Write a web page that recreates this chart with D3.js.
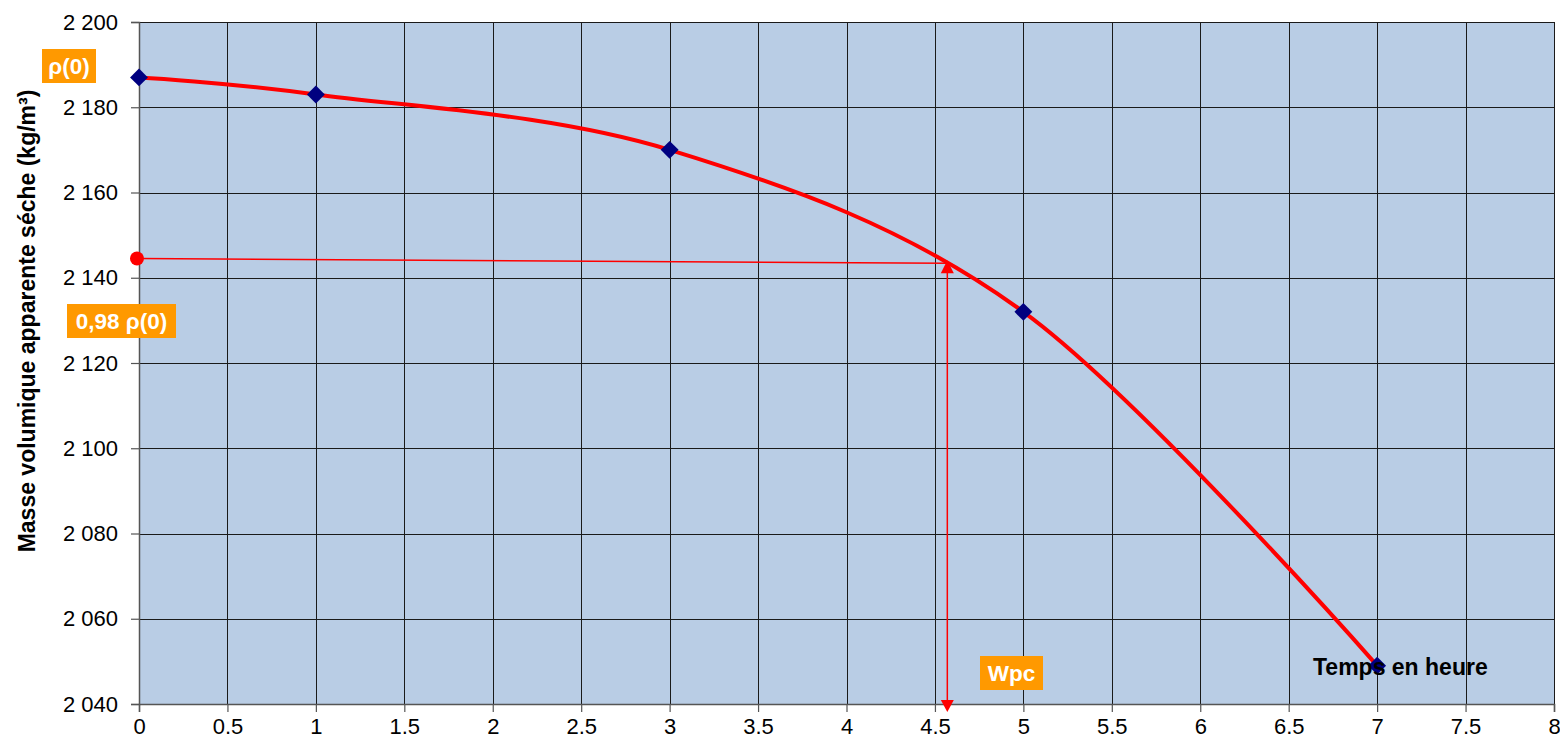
<!DOCTYPE html>
<html>
<head>
<meta charset="utf-8">
<script src="https://cdn.jsdelivr.net/npm/d3@7"></script>
<style>
  html, body { margin: 0; padding: 0; background: #fff; }
  svg { display: block; font-family: Arial, "Liberation Sans", sans-serif; }
</style>
</head>
<body>
<svg id="chart" width="1560" height="740"></svg>
<script>
// Dry bulk density versus time
const hours = [0, 1, 3, 5, 7];
const density = [2187, 2183, 2170, 2132, 2049];

// Reference level 0,98 ρ(0) and the reading of Wpc on the time axis
const refStart = { t: 0, rho: 2144.5 };
const refEnd = { t: 4.57, rho: 2143.4 };

const xTicks = d3.range(0, 8.01, 0.5);
const yTicks = d3.range(2040, 2201, 20);

const W = 1560, H = 740;
const margin = { top: 22, right: 6, bottom: 36, left: 139 };
const svg = d3.select("#chart");

const x = d3.scaleLinear().domain([0, 8]).range([margin.left, W - margin.right]);
const y = d3.scaleLinear().domain([2040, 2200]).range([H - margin.bottom, margin.top]);

const fr = d3.formatLocale({ decimal: ",", thousands: " ", grouping: [3], currency: ["", " €"] });
const fmtY = fr.format(",d");
const fmtX = d => String(d);

// Plot area
svg.append("rect")
  .attr("x", x(0)).attr("y", y(2200))
  .attr("width", x(8) - x(0)).attr("height", y(2040) - y(2200))
  .attr("fill", "#B9CDE5");

// Grid
const grid = svg.append("g").attr("shape-rendering", "crispEdges");
grid.selectAll("line.v").data(xTicks.filter(d => d > 0)).join("line")
  .attr("x1", d => Math.round(x(d)) + 0.5).attr("x2", d => Math.round(x(d)) + 0.5)
  .attr("y1", y(2200)).attr("y2", y(2040))
  .attr("stroke", "#1a1a1a").attr("stroke-width", 1);
grid.selectAll("line.h").data(yTicks.filter(d => d > 2040)).join("line")
  .attr("x1", x(0)).attr("x2", x(8))
  .attr("y1", d => Math.round(y(d)) + 0.5).attr("y2", d => Math.round(y(d)) + 0.5)
  .attr("stroke", "#1a1a1a").attr("stroke-width", 1);

// Axes
const xAxis = svg.append("g")
  .attr("transform", `translate(0,${y(2040)})`)
  .call(d3.axisBottom(x).tickValues(xTicks).tickFormat(fmtX).tickSize(8).tickPadding(6));
const yAxis = svg.append("g")
  .attr("transform", `translate(${x(0)},0)`)
  .call(d3.axisLeft(y).tickValues(yTicks).tickFormat(fmtY).tickSize(8).tickPadding(13));
[xAxis, yAxis].forEach(g => {
  g.select(".domain").attr("stroke", "#555").attr("stroke-width", 1.5);
  g.selectAll(".tick line").attr("stroke", "#555").attr("stroke-width", 1.2);
  g.selectAll("text").attr("font-size", 22).attr("fill", "#000")
    .attr("font-family", "Arial, 'Liberation Sans', sans-serif");
});

// Y axis title
svg.append("text")
  .attr("transform", `translate(35,321) rotate(-90)`)
  .attr("text-anchor", "middle")
  .attr("font-size", 23).attr("font-weight", "bold")
  .text("Masse volumique apparente séche (kg/m³)");

// Reference line 0,98 ρ(0)
svg.append("line")
  .attr("x1", x(refStart.t)).attr("y1", y(refStart.rho))
  .attr("x2", x(refEnd.t)).attr("y2", y(refEnd.rho))
  .attr("stroke", "#FF0000").attr("stroke-width", 1.5);

// Drop line to the time axis
const xr = x(refEnd.t), yr = y(refEnd.rho), yb = y(2040) + 8;
svg.append("line")
  .attr("x1", xr).attr("y1", yr).attr("x2", xr).attr("y2", yb - 8)
  .attr("stroke", "#FF0000").attr("stroke-width", 1.5);
svg.append("path")
  .attr("d", `M${xr - 6.5},${yb - 12}L${xr + 6.5},${yb - 12}L${xr},${yb}Z`)
  .attr("fill", "#FF0000");
svg.append("path")
  .attr("d", `M${xr - 6.5},${yr + 10}L${xr + 6.5},${yr + 10}L${xr},${yr - 3}Z`)
  .attr("fill", "#FF0000");

// Density curve
const pts = hours.map((t, i) => [x(t), y(density[i])]);
svg.append("path")
  .attr("d", d3.line().curve(d3.curveCardinal.tension(0))(pts))
  .attr("fill", "none").attr("stroke", "#FF0000").attr("stroke-width", 4);

svg.append("circle")
  .attr("cx", x(refStart.t) - 2).attr("cy", y(refStart.rho))
  .attr("r", 7).attr("fill", "#FF0000");

// Markers
svg.selectAll("path.mk").data(hours).join("path")
  .attr("class", "mk")
  .attr("d", d3.symbol().type(d3.symbolSquare).size(160))
  .attr("transform", (t, i) => `translate(${x(t)},${y(density[i])}) rotate(45)`)
  .attr("fill", "#000080");

// Axis name for time
svg.append("text")
  .attr("x", 1313).attr("y", 675)
  .attr("font-size", 23).attr("font-weight", "bold").attr("fill", "#000")
  .text("Temps en heure");

// Orange tags
function tag(text, cx, cy, w) {
  const g = svg.append("g");
  g.append("rect").attr("x", cx - w / 2).attr("y", cy - 17).attr("width", w).attr("height", 34)
    .attr("fill", "#FF9900");
  g.append("text").attr("x", cx).attr("y", cy).attr("dy", "0.36em")
    .attr("text-anchor", "middle").attr("font-size", 22.5).attr("font-weight", "bold")
    .attr("fill", "#fff").text(text);
}
tag("ρ(0)", 69, 66, 54);
tag("0,98 ρ(0)", 121.5, 321, 109);
tag("Wpc", 1011.5, 673, 63);
</script>
</body>
</html>
